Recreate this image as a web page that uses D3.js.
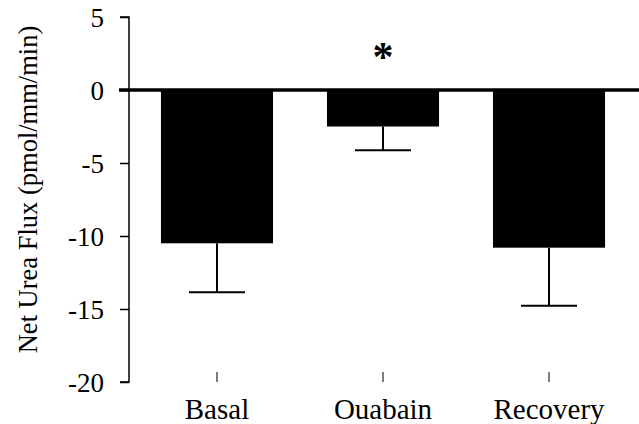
<!DOCTYPE html>
<html>
<head>
<meta charset="utf-8">
<script src="https://cdn.jsdelivr.net/npm/d3@7"></script>
<style>
  html, body { margin: 0; padding: 0; background: #fff; }
  svg { display: block; }
  text { font-family: "Liberation Serif", "Times New Roman", serif; fill: #000; }
</style>
</head>
<body>
<script>
// Net urea flux per condition (mean ± SEM)
const categories = ["Basal", "Ouabain", "Recovery"];
const means = [-10.5, -2.5, -10.8];
const errors = [3.35, 1.63, 3.98];
const significant = [false, true, false];
const yTicks = [5, 0, -5, -10, -15, -20];
const yTitle = "Net Urea Flux (pmol/mm/min)";

const W = 639, H = 424;
const svg = d3.select("body").append("svg").attr("width", W).attr("height", H);

const y = d3.scaleLinear().domain([-20, 5]).range([382, 17]);
const x = d3.scaleBand().domain(categories).range([107, 659])
  .paddingInner(0.325).paddingOuter(0.325);
const axisX = 129;

// Bars hang down from the zero line
svg.append("g").selectAll("rect").data(categories).join("rect")
  .attr("x", d => x(d))
  .attr("width", x.bandwidth())
  .attr("y", (d, i) => y(Math.max(0, means[i])))
  .attr("height", (d, i) => Math.abs(y(means[i]) - y(0)))
  .attr("fill", "#000");

// Downward error bars
const eb = svg.append("g").attr("stroke", "#000").attr("stroke-width", 2);
categories.forEach((c, i) => {
  const cx = x(c) + x.bandwidth() / 2;
  const yEnd = y(means[i] - errors[i]);
  eb.append("line").attr("x1", cx).attr("x2", cx).attr("y1", y(means[i])).attr("y2", yEnd);
  eb.append("line").attr("x1", cx - 28).attr("x2", cx + 28).attr("y1", yEnd).attr("y2", yEnd);
});

// Significance marker
categories.forEach((c, i) => {
  if (!significant[i]) return;
  svg.append("text")
    .attr("x", x(c) + x.bandwidth() / 2)
    .attr("y", 71)
    .attr("text-anchor", "middle")
    .style("font-size", "42px")
    .style("font-weight", "bold")
    .text("*");
});

// Y axis (plain hyphen for negatives)
const yAxis = d3.axisLeft(y).tickValues(yTicks).tickSize(9).tickPadding(16)
  .tickFormat(d => String(d));
const gy = svg.append("g").attr("transform", `translate(${axisX},0)`).call(yAxis);
gy.select(".domain").attr("stroke", "#000").attr("stroke-width", 1.5).attr("d", `M-9,${y(5)}H0V${y(-20)}H-9`);
gy.selectAll(".tick line").attr("stroke", "#000").attr("stroke-width", 1.5);
gy.selectAll(".tick text").style("font-size", "27px").attr("dy", "0.35em");

// Zero reference line
svg.append("line")
  .attr("x1", axisX - 10).attr("x2", W)
  .attr("y1", y(0)).attr("y2", y(0))
  .attr("stroke", "#000").attr("stroke-width", 3.5);

// Category ticks (pointing up from the bottom) and labels
const xAxis = d3.axisBottom(x).tickSize(-10).tickPadding(16);
const gx = svg.append("g").attr("transform", `translate(0,${y(-20)})`).call(xAxis);
gx.select(".domain").remove();
gx.selectAll(".tick line").attr("stroke", "#000").attr("stroke-width", 1);
gx.selectAll(".tick text").style("font-size", "29px");

// Y axis title
svg.append("text")
  .attr("transform", `translate(37,${(y(5) + y(-20)) / 2 - 10}) rotate(-90)`)
  .attr("text-anchor", "middle")
  .style("font-size", "26.5px")
  .text(yTitle);
</script>
</body>
</html>
